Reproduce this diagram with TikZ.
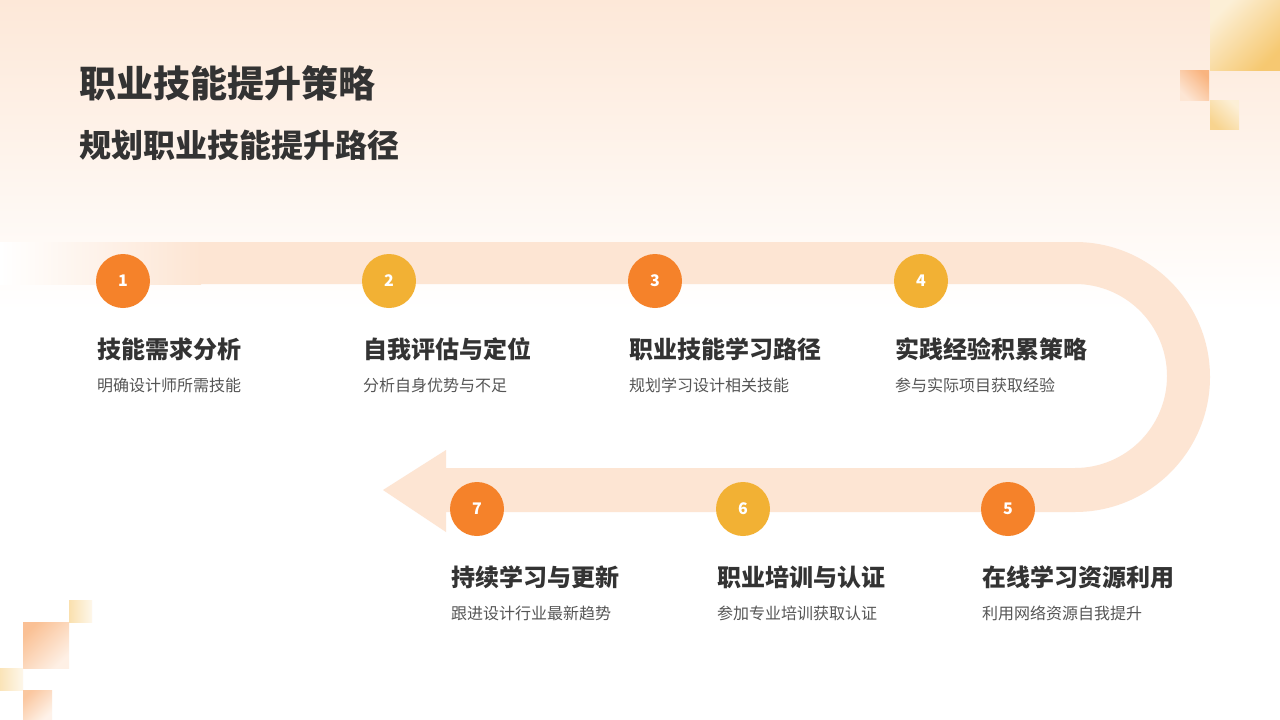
\documentclass[tikz,border=0pt]{standalone}
\usepackage{fontspec}
\setmainfont{Noto Sans CJK SC}
\usetikzlibrary{positioning}
\definecolor{bandc}{HTML}{FDE5D3}
\definecolor{peach}{HTML}{FDE8D8}
\definecolor{orangec}{HTML}{F5822A}
\definecolor{yellowc}{HTML}{F2B134}
\definecolor{txt}{HTML}{333333}
\definecolor{sub}{HTML}{555555}
\tikzset{
  num/.style={circle,minimum size=54pt,inner sep=0pt,text=white,font=\fontsize{16pt}{16pt}\selectfont\bfseries},
  ttl/.style={anchor=west,inner sep=0pt,text=txt,font=\fontsize{24pt}{24pt}\selectfont\bfseries},
  desc/.style={anchor=west,inner sep=0pt,text=sub,font=\fontsize{16pt}{16pt}\selectfont},
}
\begin{document}
\begin{tikzpicture}[x=1pt,y=-1pt]
\useasboundingbox (0,0) rectangle (1280,720);
\fill[white] (0,0) rectangle (1280,720);
\shade[top color=peach,bottom color=white] (0,0) rectangle (1280,310);
% decorative squares
\shade[left color=yellowc!20!white,right color=yellowc!70!white,shading angle=45] (1210,0) rectangle (1280,70);
\shade[left color=orangec!60!white,right color=orangec!20!white,shading angle=-45] (1180,70) rectangle (1209,100);
\shade[left color=yellowc!20!white,right color=yellowc!55!white,shading angle=-45] (1210,100) rectangle (1239,129);
\shade[left color=orangec!50!white,right color=orangec!12!white,shading angle=45] (23,622) rectangle (69,668);
\shade[left color=yellowc!40!white,right color=yellowc!10!white] (69,600) rectangle (92,622);
\shade[left color=yellowc!35!white,right color=yellowc!10!white] (0,668) rectangle (23,690);
\shade[left color=orangec!45!white,right color=orangec!10!white,shading angle=45] (23,690) rectangle (52,720);
% band
\fill[bandc] (200,242) -- (1075,242) arc[start angle=-90,end angle=90,radius=135] -- (446,512) -- (446,532) -- (383,490) -- (446,450) -- (446,468) -- (1075,468) arc[start angle=90,end angle=-90,radius=92] -- (200,284) -- cycle;
\shade[left color=white,right color=bandc] (0,242) rectangle (201,284);
% titles
\node[anchor=west,inner sep=0pt,text=txt,font=\fontsize{37pt}{37pt}\selectfont\bfseries] (t1) at (79,83) {职业技能提升策略};
\node[anchor=west,inner sep=0pt,text=txt,font=\fontsize{32pt}{32pt}\selectfont\bfseries] (t2) at (79,145) {规划职业技能提升路径};
% steps
\foreach \n/\x/\y/\c/\a/\b in {
 1/123/281/orangec/技能需求分析/明确设计师所需技能,
 2/389/281/yellowc/自我评估与定位/分析自身优势与不足,
 3/655/281/orangec/职业技能学习路径/规划学习设计相关技能,
 4/921/281/yellowc/实践经验积累策略/参与实际项目获取经验,
 5/1008/509/orangec/在线学习资源利用/利用网络资源自我提升,
 6/743/509/yellowc/职业培训与认证/参加专业培训获取认证,
 7/477/509/orangec/持续学习与更新/跟进设计行业最新趋势}{
  \node[num,fill=\c] (c\n) at (\x,\y) {\n};
  \node[ttl] (h\n) at (\x-26,\y+68) {\a};
  \node[desc] (d\n) at (\x-26,\y+104) {\b};
}
\end{tikzpicture}
\end{document}
